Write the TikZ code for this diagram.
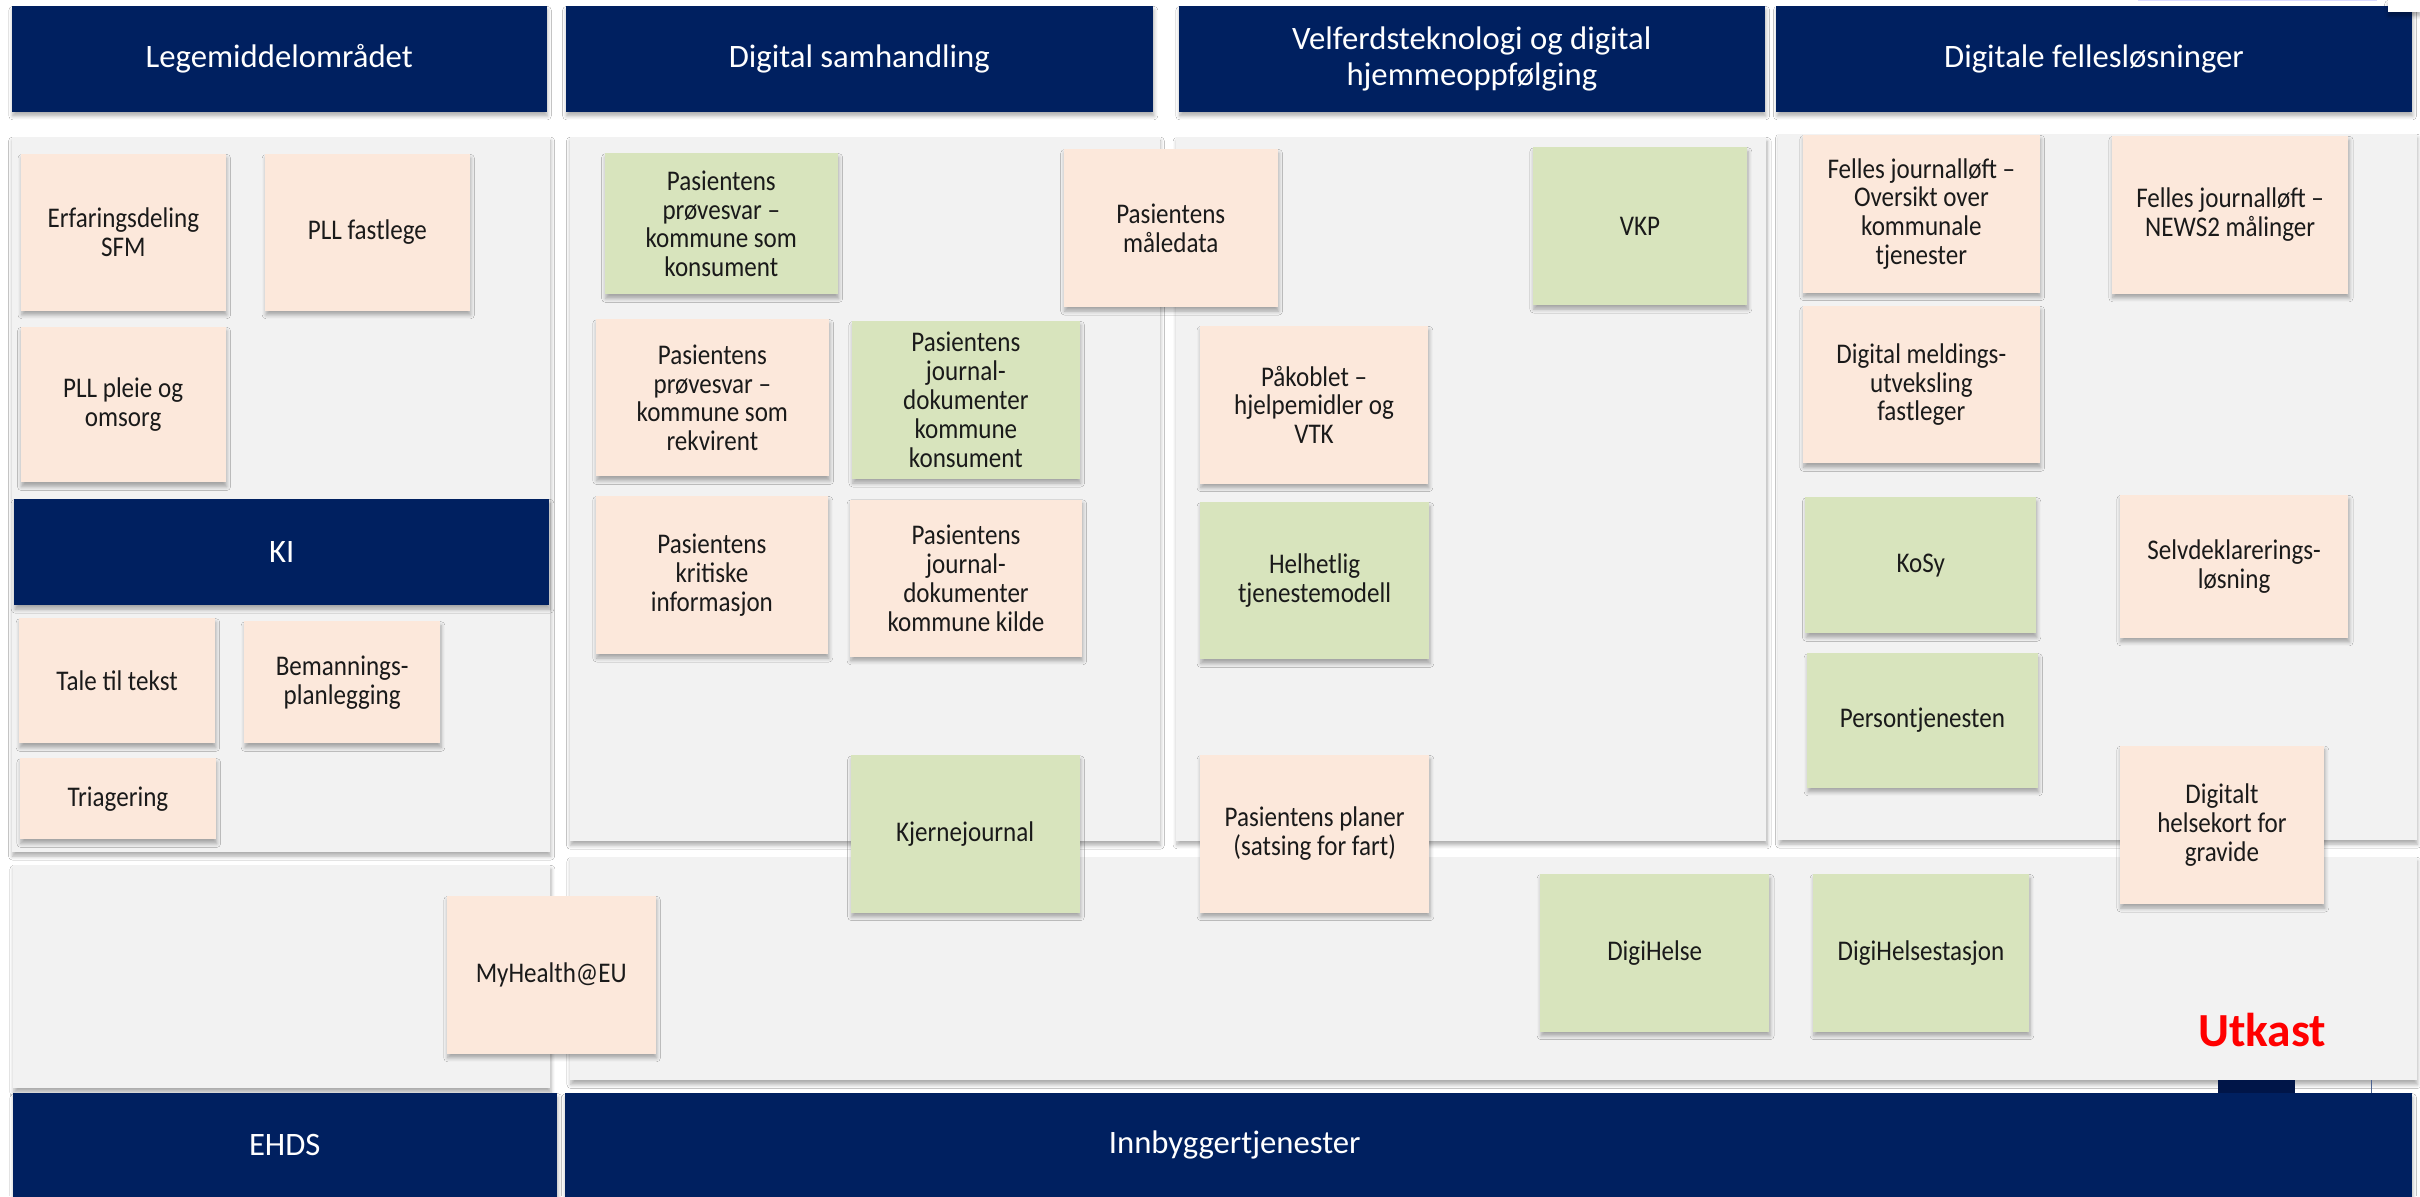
\documentclass[tikz,border=0pt]{standalone}
\usepackage{fontspec}
\setmainfont{Carlito}
\newfontfamily\narrowfont{Carlito}[FakeStretch=0.88]
\usetikzlibrary{fit,shadows.blur}
\definecolor{navy}{HTML}{002060}
\definecolor{navydark}{HTML}{001548}
\definecolor{peach}{HTML}{FCE8DB}
\definecolor{leaf}{HTML}{D8E4BD}
\definecolor{panelgray}{HTML}{F2F2F2}
\definecolor{ink}{HTML}{1A1A1A}
\definecolor{draftred}{HTML}{FF0000}
\newcommand\cardfont{\narrowfont\fontsize{8.1}{8.2}\selectfont}
\newcommand\headfont{\fontsize{9.3}{10.1}\selectfont}
\tikzset{
  shd/.style={blur shadow={shadow xshift=0.25pt, shadow yshift=-1.2pt, shadow blur radius=1.1pt, shadow blur steps=5, shadow opacity=32}},
  panel/.style={fill=panelgray, inner sep=0pt, shd},
  header/.style={fill=navy, inner sep=0pt, shd},
  headtext/.style={text=white, align=center, inner sep=0pt, font=\headfont},
  card/.style={inner sep=0pt, shd},
  ctext/.style={inner sep=0pt, align=center, text=ink, font=\cardfont},
  pcard/.style={card, fill=peach},
  gcard/.style={card, fill=leaf},
}
\newcommand\mkcard[4]{\node[#1, fit={#2}] (#3) {};\node[ctext] (#3-t) at (#3.center) {#4};}
\newcommand\mkhead[3]{\node[header, fit={#1}] (#2) {};\node[headtext] (#2-t) at (#2.center) {#3};}
\begin{document}
\begin{tikzpicture}[x=0.015434cm, y=-0.015434cm]
\useasboundingbox (0,0) rectangle (1568,775);
\fill[white] (0,0) rectangle (1568,775);

% panels
\node[panel, fit={(7.5,88.6) (356.3,552)}] (pLeg) {};
\node[panel, fit={(369,88.6) (751.3,545)}] (pSam) {};
\node[panel, fit={(762,88.8) (1144.5,544.7)}] (pVel) {};
\node[panel, fit={(1152.3,86.8) (1565.8,544.3)}] (pFel) {};
\node[panel, fit={(8.4,560.4) (356.5,705.2)}] (pEhds) {};
\node[panel, fit={(369.3,555.3) (1565.8,700)}] (pInn) {};

% small artefacts at the bottom right
\fill[navydark] (1437,700) rectangle (1487,708.6);
\draw[navy!70, line width=0.4pt] (1536.7,700) -- (1536.7,708.6);

% headers
\mkhead{(7.7,3.9) (354.1,72.4)}{hLeg}{Legemiddelområdet}
\mkhead{(366.5,3.9) (747.1,72.4)}{hSam}{Digital samhandling}
\mkhead{(763.8,3.9) (1143.5,72.4)}{hVel}{Velferdsteknologi og digital\\hjemmeoppfølging}
\mkhead{(1151,3.9) (1562.6,72.4)}{hFel}{Digitale fellesløsninger}
\mkhead{(9.2,323.3) (355.8,392)}{hKI}{KI}
\node[header, fit={(8.4,708.4) (360.9,776)}] (hEhds) {};
\node[headtext] (hEhds-t) at (184.5,742) {EHDS};
\node[header, fit={(365.9,708.4) (1562.6,776)}] (hInn) {};
\node[headtext] (hInn-t) at (800,742) {Innbyggertjenester};

% top right white patch
\fill[blue!15] (1385,0) rectangle (1540,0.9);
\node[fill=white, inner sep=0pt, shd, fit={(1547,0) (1568,7.6)}] (patch) {};

% Legemiddelomraadet
\mkcard{pcard}{(13.6,99.8) (146.3,201.3)}{erf}{Erfaringsdeling\\SFM}
\mkcard{pcard}{(171.8,99.8) (304.3,201.3)}{pllf}{PLL fastlege}
\mkcard{pcard}{(13.3,211.8) (146.3,312.6)}{pllp}{PLL pleie og\\omsorg}

% KI
\mkcard{pcard}{(12.4,400.6) (139.3,481.6)}{tale}{Tale til tekst}
\mkcard{pcard}{(158.2,402.6) (285.2,481.6)}{bem}{Bemannings-\\planlegging}
\mkcard{pcard}{(12.9,491.3) (139.9,543.8)}{tri}{Triagering}

% Digital samhandling
\mkcard{gcard}{(391.8,99.3) (542.9,190.7)}{pkon}{Pasientens\\prøvesvar –\\kommune som\\konsument}
\mkcard{pcard}{(689.2,96.6) (827.9,198.9)}{maale}{Pasientens\\måledata}
\mkcard{pcard}{(386,206.9) (537.1,308.7)}{prek}{Pasientens\\prøvesvar –\\kommune som\\rekvirent}
\mkcard{gcard}{(552,208) (699.6,310.3)}{jkon}{Pasientens\\journal-\\dokumenter\\kommune\\konsument}
\mkcard{pcard}{(386,321.4) (536.5,423.7)}{krit}{Pasientens\\kritiske\\informasjon}
\mkcard{pcard}{(550.8,323.7) (701,425.5)}{jkil}{Pasientens\\journal-\\dokumenter\\kommune kilde}
\mkcard{gcard}{(551.2,489.5) (699.5,591.3)}{kj}{Kjernejournal}

% Velferdsteknologi
\mkcard{gcard}{(993.2,95.5) (1132,197.6)}{vkp}{VKP}
\mkcard{pcard}{(777.5,211.2) (925.3,313.3)}{pako}{Påkoblet –\\hjelpemidler og\\VTK}
\mkcard{gcard}{(777.5,325.4) (926,427.2)}{helh}{Helhetlig\\tjenestemodell}
\mkcard{pcard}{(777.6,489.2) (926,591.3)}{plan}{Pasientens planer\\(satsing for fart)}

% Digitale felleslosninger
\mkcard{pcard}{(1168.1,87.5) (1321.7,189.6)}{fjo}{Felles journalløft –\\Oversikt over\\kommunale\\tjenester}
\mkcard{pcard}{(1368.3,88.1) (1521.6,190.3)}{fjn}{Felles journalløft –\\NEWS2 målinger}
\mkcard{pcard}{(1168.1,198.3) (1321.7,300.2)}{dmu}{Digital meldings-\\utveksling\\fastleger}
\mkcard{gcard}{(1169.8,322.2) (1319.2,410.3)}{kosy}{KoSy}
\mkcard{pcard}{(1373.5,320.7) (1521.6,413.2)}{selv}{Selvdeklarerings-\\løsning}
\mkcard{gcard}{(1170.9,423.3) (1320.3,510.4)}{pers}{Persontjenesten}
\mkcard{pcard}{(1373.5,483.2) (1505.8,585.7)}{dhk}{Digitalt\\helsekort for\\gravide}

% bottom row
\mkcard{pcard}{(289.5,580.5) (424.8,682.7)}{myh}{MyHealth@EU}
\mkcard{gcard}{(997.9,566.3) (1146.4,668.4)}{dh}{DigiHelse}
\mkcard{gcard}{(1174.7,566.3) (1314.7,668.4)}{dhs}{DigiHelsestasjon}

\node[anchor=base, inner sep=0pt, text=draftred, font=\fontsize{13.5}{15}\selectfont\bfseries] (utkast) at (1465.7,678) {Utkast};
\end{tikzpicture}
\end{document}
